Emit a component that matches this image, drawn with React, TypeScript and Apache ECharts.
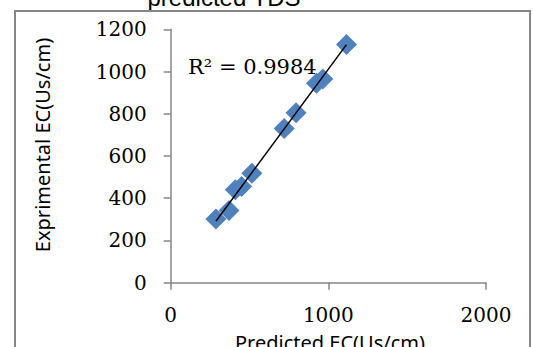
import React, { useEffect, useRef } from "react";
import * as echarts from "echarts";

const titleText = "predicted TDS";
const xAxisTitle = "Predicted EC(Us/cm)";
const yAxisTitle = "Exprimental EC(Us/cm)";
const r2Label = "R² = 0.9984";

const predictedEC = [287, 370, 410, 450, 515, 720, 795, 925, 965, 1115];
const experimentalEC = [302, 342, 440, 455, 518, 730, 805, 945, 965, 1128];

function linearFit(xs: number[], ys: number[]) {
  const n = xs.length;
  const mx = xs.reduce((a, b) => a + b, 0) / n;
  const my = ys.reduce((a, b) => a + b, 0) / n;
  let sxy = 0;
  let sxx = 0;
  for (let i = 0; i < n; i++) {
    sxy += (xs[i] - mx) * (ys[i] - my);
    sxx += (xs[i] - mx) * (xs[i] - mx);
  }
  const slope = sxy / sxx;
  return { slope, intercept: my - slope * mx };
}

export default function App() {
  const ref = useRef<HTMLDivElement>(null);
  useEffect(() => {
    if (!ref.current) return;
    const chart = echarts.init(ref.current, undefined, { renderer: "svg" });
    const fit = linearFit(predictedEC, experimentalEC);
    const xMin = Math.min(...predictedEC);
    const xMax = Math.max(...predictedEC);
    const trend = [
      [xMin, fit.slope * xMin + fit.intercept],
      [xMax, fit.slope * xMax + fit.intercept],
    ];
    const axisColor = "#868686";
    const serif = "DejaVu Serif";
    const plain = (v: number) => String(v);
    chart.setOption({
      animation: false,
      backgroundColor: "#ffffff",
      grid: { left: 170.7, right: 47, top: 29.3, bottom: 64.3 },
      xAxis: {
        type: "value",
        min: 0,
        max: 2000,
        interval: 1000,
        splitLine: { show: false },
        axisLine: { show: true, onZero: false, lineStyle: { color: axisColor, width: 1.5 } },
        axisTick: { show: true, inside: false, length: 7, lineStyle: { color: axisColor, width: 1.5 } },
        axisLabel: { margin: 22, color: "#000", fontFamily: serif, fontSize: 20, formatter: plain },
      },
      yAxis: {
        type: "value",
        min: 0,
        max: 1200,
        interval: 200,
        splitLine: { show: false },
        axisLine: { show: true, onZero: false, lineStyle: { color: axisColor, width: 1.5 } },
        axisTick: { show: true, inside: false, length: 7, lineStyle: { color: axisColor, width: 1.5 } },
        axisLabel: { margin: 24, color: "#000", fontFamily: serif, fontSize: 20, formatter: plain },
      },
      series: [
        {
          type: "scatter",
          symbol: "diamond",
          symbolSize: 21,
          itemStyle: { color: "#4F81BD", opacity: 1 },
          data: predictedEC.map((x, i) => [x, experimentalEC[i]]),
          z: 2,
        },
        {
          type: "line",
          data: trend,
          symbol: "none",
          lineStyle: { color: "#000", width: 1.5 },
          z: 3,
        },
      ],
      graphic: [
        {
          type: "rect",
          shape: { x: 15, y: 11, width: 515, height: 400 },
          style: { fill: "none", stroke: axisColor, lineWidth: 2 },
          z: 10,
        },
        {
          type: "text",
          x: 224,
          y: 9,
          style: {
            text: titleText,
            fill: "#000",
            font: "24px 'Liberation Sans'",
            align: "center",
            verticalAlign: "bottom",
          },
          z: 5,
        },
        {
          type: "text",
          x: 42,
          y: 145,
          rotation: Math.PI / 2,
          style: {
            text: yAxisTitle,
            fill: "#000",
            font: "20px 'Noto Sans'",
            align: "center",
            verticalAlign: "middle",
          },
        },
        {
          type: "text",
          x: 330,
          y: 332,
          style: {
            text: xAxisTitle,
            fill: "#000",
            font: "20px 'Noto Sans'",
            align: "center",
            verticalAlign: "top",
          },
        },
        {
          type: "text",
          x: 188,
          y: 67,
          style: {
            text: r2Label,
            fill: "#000",
            font: "21px 'DejaVu Serif'",
            align: "left",
            verticalAlign: "middle",
          },
        },
      ],
    });
    return () => chart.dispose();
  }, []);
  return (
    <div
      ref={ref}
      style={{ position: "fixed", left: 0, top: 0, width: 533, height: 347, background: "#fff" }}
    />
  );
}
